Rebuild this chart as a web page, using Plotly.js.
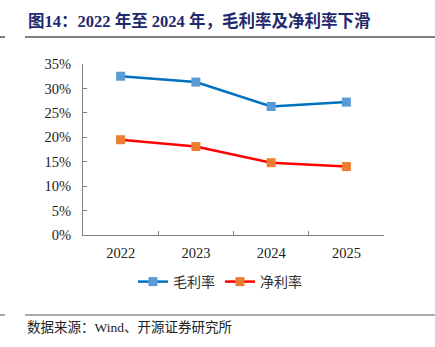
<!DOCTYPE html>
<html>
<head>
<meta charset="utf-8">
<script src="https://cdn.plot.ly/plotly-3.0.1.min.js"></script>
<style>html,body{margin:0;padding:0;background:#fff;}#chart{width:435px;height:347px;}</style>
</head>
<body>
<div id="chart"></div>
<script>
const years = ['2022', '2023', '2024', '2025'];
const grossMargin = [0.325, 0.313, 0.263, 0.272];
const netMargin = [0.195, 0.181, 0.148, 0.140];
const seriesNames = ['毛利率', '净利率'];
const titleText = '图14：2022 年至 2024 年，毛利率及净利率下滑';
const sourceText = '数据来源：Wind、开源证券研究所';

const W = 435, H = 347;
const L = 83, R = 384, T = 64, B = 235;
const px = x => (x - L) / (R - L);
const py = y => (B - y) / (B - T);
const serif = 'Liberation Serif, Times New Roman, Noto Sans CJK SC, serif';

const traces = [
  {x: years, y: grossMargin, name: seriesNames[0], type: 'scatter', mode: 'lines+markers',
   line: {color: '#0070C0', width: 2.5}, marker: {symbol: 'square', size: 9, color: '#5B9BD5'}},
  {x: years, y: netMargin, name: seriesNames[1], type: 'scatter', mode: 'lines+markers',
   line: {color: '#FF0000', width: 2.5}, marker: {symbol: 'square', size: 9, color: '#ED7D31'}}
];

const layout = {
  width: W, height: H,
  margin: {l: L, r: W - R, t: T, b: H - B, pad: 0},
  paper_bgcolor: '#fff', plot_bgcolor: '#fff',
  showlegend: true,
  legend: {orientation: 'h', x: 0.455, xanchor: 'center', y: py(282), yanchor: 'middle',
    font: {family: serif, size: 14, color: '#333'}, itemwidth: 30, tracegroupgap: 0},
  xaxis: {type: 'category', range: [-0.5, 3.5], tickson: 'boundaries', ticks: 'inside', ticklen: 4,
    tickcolor: '#7f7f7f', showline: true, linecolor: '#7f7f7f', linewidth: 1, showgrid: false, zeroline: false,
    ticklabelstandoff: 5,
    tickfont: {family: serif, size: 14.5, color: '#222'}, fixedrange: true},
  yaxis: {range: [0, 0.35], dtick: 0.05, tickformat: '.0%', ticks: 'inside', ticklen: 4,
    tickcolor: '#7f7f7f', showline: true, linecolor: '#7f7f7f', linewidth: 1, showgrid: false, zeroline: false,
    ticklabelstandoff: 8,
    tickfont: {family: serif, size: 14.5, color: '#222'}, fixedrange: true},
  shapes: [
    {type: 'line', xref: 'paper', yref: 'paper', x0: px(25), x1: px(435), y0: py(37), y1: py(37), line: {color: '#555', width: 1.5}},
    {type: 'line', xref: 'paper', yref: 'paper', x0: px(0), x1: px(5), y0: py(37), y1: py(37), line: {color: '#555', width: 1.5}},
    {type: 'line', xref: 'paper', yref: 'paper', x0: px(25), x1: px(435), y0: py(315), y1: py(315), line: {color: '#555', width: 1}},
    {type: 'line', xref: 'paper', yref: 'paper', x0: px(0), x1: px(5), y0: py(315), y1: py(315), line: {color: '#555', width: 1}}
  ],
  annotations: [
    {text: '<b>' + titleText + '</b>', xref: 'paper', yref: 'paper', x: px(26), y: py(21),
     xanchor: 'left', yanchor: 'middle', showarrow: false, font: {family: serif, size: 16.5, color: '#1F2A6E'}},
    {text: sourceText, xref: 'paper', yref: 'paper', x: px(25), y: py(327),
     xanchor: 'left', yanchor: 'middle', showarrow: false, font: {family: serif, size: 13.5, color: '#222'}}
  ]
};

Plotly.newPlot('chart', traces, layout, {displayModeBar: false, staticPlot: true});
</script>
</body>
</html>
